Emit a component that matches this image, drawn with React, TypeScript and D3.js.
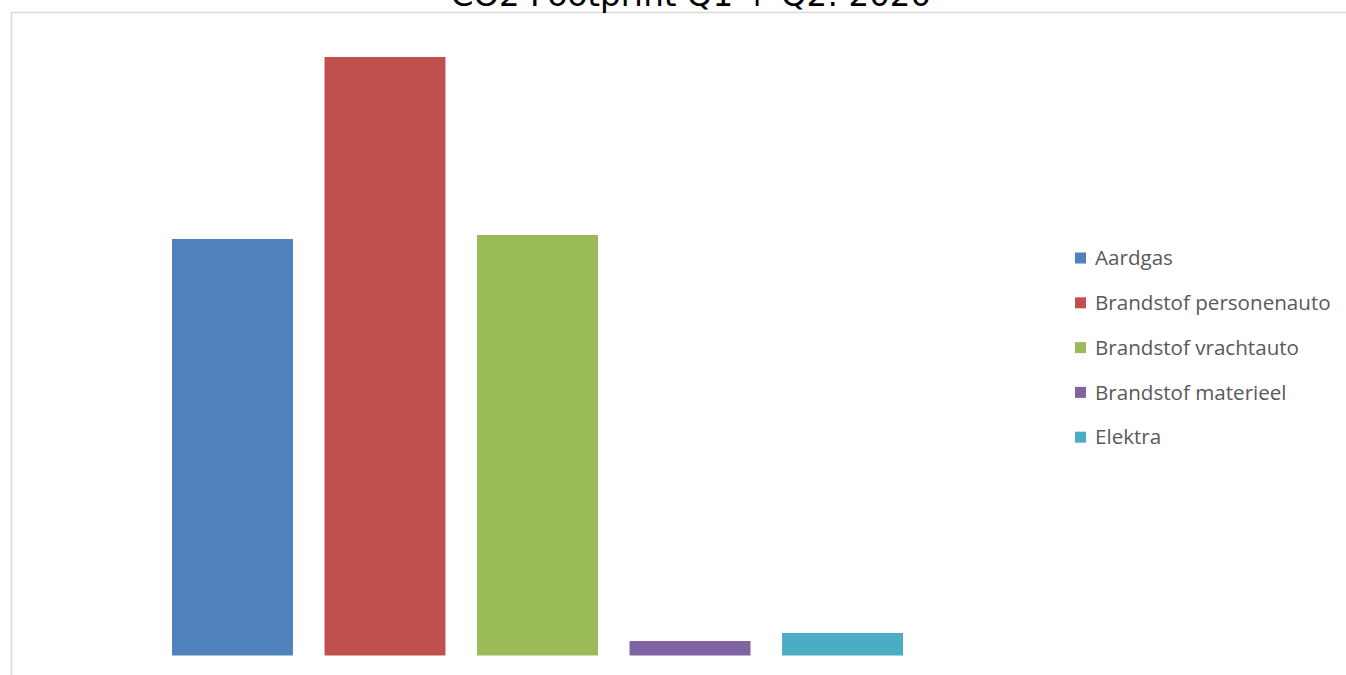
import { useEffect, useRef } from "react";
import * as d3 from "d3";

// one category (the half year), five series
const seriesNames = [
  "Aardgas",
  "Brandstof personenauto",
  "Brandstof vrachtauto",
  "Brandstof materieel",
  "Elektra",
];
// (no value axis shown)
const seriesValues = [41.65, 59.85, 42.05, 1.45, 2.25];
const seriesColors = ["#4F81BD", "#C0504D", "#9BBB59", "#8064A2", "#4BACC6"];
const title = "CO2 Footprint Q1 + Q2: 2020";

export default function App() {
  const svgRef = useRef<SVGSVGElement>(null);

  useEffect(() => {
    if (!svgRef.current) return;
    const width = 1346;
    const height = 675;
    const svg = d3.select(svgRef.current).attr("width", width).attr("height", height);
    svg.selectAll("*").remove();

    svg.append("rect").attr("width", width).attr("height", height).attr("fill", "#fff");

    // chart frame, runs off the right and bottom edges
    svg.append("rect")
      .attr("x", 11.5)
      .attr("y", 12.5)
      .attr("width", width + 40)
      .attr("height", height + 40)
      .attr("fill", "none")
      .attr("stroke", "#d9d9d9")
      .attr("stroke-width", 1.5);

    // title sits mostly above the visible area, as in the source
    svg.append("text")
      .attr("x", 691)
      .attr("y", 6)
      .attr("text-anchor", "middle")
      .attr("font-family", "DejaVu Sans, Verdana, sans-serif")
      .attr("font-size", 32.5)
      .attr("fill", "#000")
      .text(title);

    const x = d3.scaleBand<string>()
      .domain(seriesNames)
      .range([172, 903])
      .paddingInner(0.207)
      .paddingOuter(0);

    const y = d3.scaleLinear().domain([0, 60]).range([655.5, 55.5]);

    svg.append("g")
      .selectAll("rect")
      .data(seriesNames)
      .join("rect")
      .attr("x", (d) => x(d)!)
      .attr("width", x.bandwidth())
      .attr("y", (_, i) => y(seriesValues[i]))
      .attr("height", (_, i) => y(0) - y(seriesValues[i]))
      .attr("fill", (_, i) => seriesColors[i]);

    const legend = svg.append("g").attr("transform", "translate(1075,258)");
    const rows = legend.selectAll("g")
      .data(seriesNames)
      .join("g")
      .attr("transform", (_, i) => `translate(0,${i * 44.8})`);

    rows.append("rect")
      .attr("x", 0)
      .attr("y", -5.5)
      .attr("width", 11)
      .attr("height", 11)
      .attr("fill", (_, i) => seriesColors[i]);

    rows.append("text")
      .attr("x", 20)
      .attr("dy", "0.35em")
      .attr("font-family", "Open Sans, sans-serif")
      .attr("font-size", 20.6)
      .attr("fill", "#595959")
      .text((d) => d);
  }, []);

  return (
    <div style={{ position: "fixed", left: 0, top: 0, width: 1346, height: 675, overflow: "hidden" }}>
      <svg ref={svgRef} style={{ display: "block" }} />
    </div>
  );
}
